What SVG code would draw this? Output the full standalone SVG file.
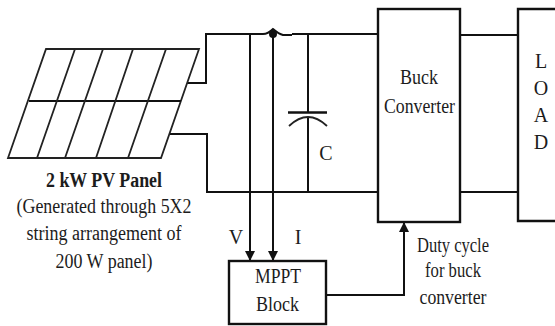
<svg xmlns="http://www.w3.org/2000/svg" width="555" height="326" viewBox="0 0 555 326">
<style>
.w{fill:none;stroke:#111;stroke-width:2}
.b{fill:#fff;stroke:#111;stroke-width:2.4}
.p{fill:none;stroke:#222;stroke-width:1.8}
text{font-family:"Liberation Serif","Times New Roman",serif;font-size:20px;fill:#1c1c1c;text-anchor:middle}
</style>
<defs><marker id="a" markerWidth="10" markerHeight="12" refX="9" refY="5" orient="auto" markerUnits="userSpaceOnUse"><path d="M0 0L10 5L0 10Z" fill="#111"/></marker></defs>
<rect width="555" height="326" fill="#fff"/>
<g id="connectors">
<path class="w" d="M187 83H206V34H263Q268 34 273 29Q279 34 283 35H292"/>
<path class="w" d="M292 34H378"/>
<path class="w" d="M170 134H207V192H378"/>
<path class="w" d="M460 35H518M460 192H518"/>
<path class="w" d="M250 34V260" marker-end="url(#a)"/>
<path class="w" d="M273 34V260" marker-end="url(#a)"/>
<circle cx="273" cy="34" r="4" fill="#111"/>
<path class="w" d="M327 295H404V223" marker-end="url(#a)"/>
<path class="w" d="M308 34V112M308 118V192"/>
<path d="M288 112.500H327" fill="none" stroke="#111" stroke-width="2.400"/>
<path class="p" d="M289 126Q308 108 327 126"/>
</g>
<g id="pv-panel">
<path class="p" d="M46 49H199L161 158H8Z"/>
<path d="M29 101H181" fill="none" stroke="#111" stroke-width="2.200"/>
<path class="p" d="M75 49L37 158M103 49L65 158M133 49L96 158M166 49L128 158"/>
<text x="104" y="187" style="font-weight:700" textLength="116" lengthAdjust="spacingAndGlyphs">2 kW PV Panel</text>
<text x="104" y="213" textLength="175" lengthAdjust="spacingAndGlyphs">(Generated through 5X2</text>
<text x="104" y="240" textLength="155" lengthAdjust="spacingAndGlyphs">string arrangement of</text>
<text x="104" y="268" textLength="97" lengthAdjust="spacingAndGlyphs">200 W panel)</text>
</g>
<g id="capacitor-label"><text x="326" y="160">C</text></g>
<g id="buck-converter">
<rect class="b" x="378" y="9" width="82" height="213"/>
<text x="419" y="84" textLength="38" lengthAdjust="spacingAndGlyphs">Buck</text>
<text x="419.500" y="113" textLength="71" lengthAdjust="spacingAndGlyphs">Converter</text>
</g>
<g id="load">
<path class="b" d="M556 9H518V221H556"/>
<text x="541" y="68">L</text>
<text x="541" y="95">O</text>
<text x="541" y="122">A</text>
<text x="541" y="149">D</text>
</g>
<g id="mppt-block">
<rect class="b" x="229" y="261" width="97" height="63"/>
<text x="278" y="283" textLength="46" lengthAdjust="spacingAndGlyphs">MPPT</text>
<text x="277.500" y="311" textLength="43" lengthAdjust="spacingAndGlyphs">Block</text>
</g>
<g id="labels">
<text x="236" y="244">V</text>
<text x="298" y="244">I</text>
<text x="453" y="252" textLength="72" lengthAdjust="spacingAndGlyphs">Duty cycle</text>
<text x="453" y="277" textLength="56" lengthAdjust="spacingAndGlyphs">for buck</text>
<text x="453" y="304" textLength="67" lengthAdjust="spacingAndGlyphs">converter</text>
</g>
</svg>
